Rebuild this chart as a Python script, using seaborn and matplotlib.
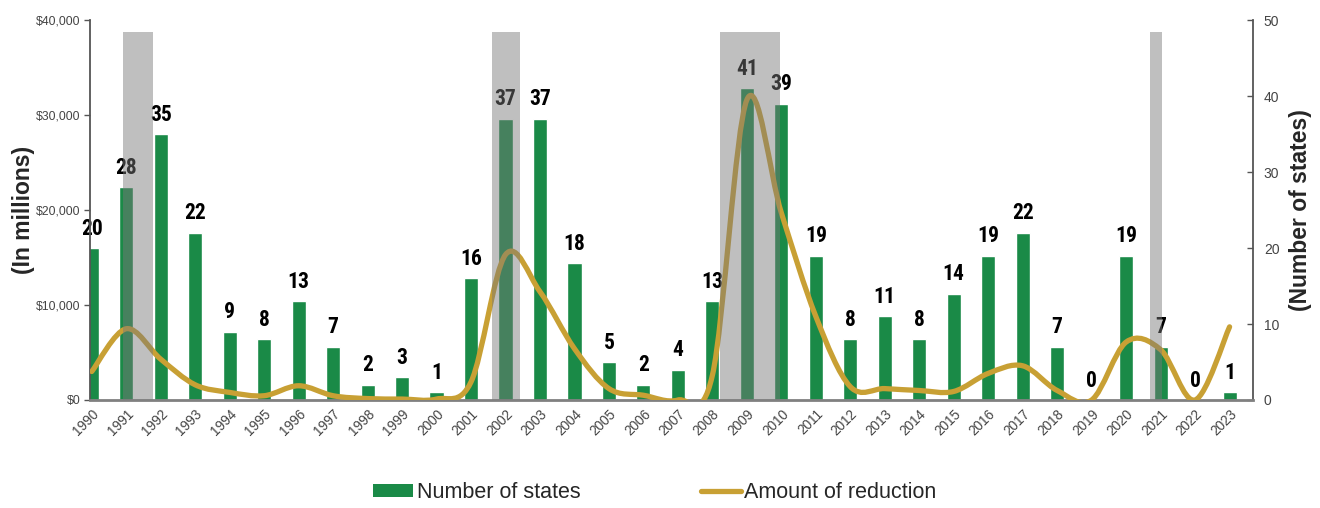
import numpy as np
import pandas as pd
import matplotlib
matplotlib.use("Agg")
import matplotlib.pyplot as plt
import matplotlib.transforms as mtransforms
import seaborn as sns
from matplotlib.path import Path
from matplotlib.patches import PathPatch, Patch
from matplotlib.lines import Line2D
from matplotlib.ticker import FuncFormatter, MultipleLocator

# ---- data -------------------------------------------------------------
years = list(range(1990, 2024))
states = [20, 28, 35, 22, 9, 8, 13, 7, 2, 3, 1, 16, 37, 37, 18, 5, 2, 4,
          13, 41, 39, 19, 8, 11, 8, 14, 19, 22, 7, 0, 19, 7, 0, 1]
# amount of reduction, $ millions
reduction = [3000, 7500, 4300, 1600, 800, 450, 1500, 450, 150, 100, 100,
             1900, 15300, 11400, 5400, 1200, 500, 0, 2600, 31600, 19700,
             8800, 1400, 1200, 1000, 900, 2800, 3600, 1000, 0, 6100, 5300,
             0, 7700]
# recession periods (fractional year positions on the year axis)
recessions = [(1990.91, 1991.78), (2001.60, 2002.42),
              (2008.21, 2009.95), (2020.70, 2021.05)]

GREEN = "#1a8a47"
GOLD = "#c8a034"
BAND = "#787878"
TICK = "#444444"
SPINE = "#555555"

sns.set_style("white")
plt.rcParams["font.family"] = ["Liberation Sans", "DejaVu Sans"]

df = pd.DataFrame({"year": [str(y) for y in years], "states": states})

fig = plt.figure(figsize=(13.2, 5.08), dpi=100)
ax_l = fig.add_axes([0.0682, 0.2126, 0.949 - 0.0682, 0.9606 - 0.2126])
ax_r = ax_l.twinx()

# bars: number of states (right axis)
sns.barplot(data=df, x="year", y="states", ax=ax_r, color=GREEN,
            saturation=1, width=0.41)
ax_r.bar_label(ax_r.containers[0], padding=6, fontsize=15.5, fontweight="bold",
               family=["Roboto Condensed", "Liberation Sans", "DejaVu Sans"],
               color="black")
ax_r.set_ylim(0, 50)
ax_r.yaxis.set_major_locator(MultipleLocator(10))

# smoothed line: amount of reduction (left axis)
def smooth_path(xs, ys):
    pts = np.column_stack([xs, ys]).astype(float)
    ext = np.vstack([pts[0], pts, pts[-1]])
    verts = [pts[0]]
    codes = [Path.MOVETO]
    for i in range(len(pts) - 1):
        p0, p1, p2, p3 = ext[i], ext[i + 1], ext[i + 2], ext[i + 3]
        verts += [p1 + (p2 - p0) / 6, p2 - (p3 - p1) / 6, p2]
        codes += [Path.CURVE4] * 3
    return Path(verts, codes)

xpos = np.arange(len(years))
ax_l.add_patch(PathPatch(smooth_path(xpos, reduction), fill=False,
                         edgecolor=GOLD, lw=3.8, capstyle="round",
                         joinstyle="round", zorder=3))
ax_l.set_ylim(0, 40000)
ax_l.yaxis.set_major_locator(MultipleLocator(10000))
ax_l.yaxis.set_major_formatter(FuncFormatter(lambda v, p: f"${v:,.0f}"))

# recession shading on top
for a, b in recessions:
    ax_l.fill_between([a - years[0], b - years[0]], 0, 38700, color=BAND,
                      alpha=0.47, lw=0, zorder=5)

ax_l.set_zorder(ax_r.get_zorder() + 1)
ax_l.patch.set_visible(False)

ax_l.set_xlim(-0.05, 33.67)
ax_l.set_xticks(xpos)
ax_l.set_xticklabels([str(y) for y in years], rotation=45, ha="right",
                     rotation_mode="anchor", fontsize=9.8, color=TICK)
shift = mtransforms.ScaledTranslation(6 / 100, 0, fig.dpi_scale_trans)
for lbl in ax_l.get_xticklabels():
    lbl.set_transform(lbl.get_transform() + shift)
ax_l.tick_params(axis="x", length=0, pad=5)
ax_l.tick_params(axis="y", direction="out", length=4, width=1, colors=SPINE,
                 labelsize=8.8, labelcolor=TICK, pad=3)
ax_r.tick_params(axis="y", direction="in", length=4, width=1, colors=SPINE,
                 labelsize=10, labelcolor=TICK, pad=8)

for s in ("top", "right"):
    ax_l.spines[s].set_visible(False)
ax_l.spines["left"].set_color(SPINE)
ax_l.spines["left"].set_linewidth(1.3)
ax_l.spines["bottom"].set_color("#808080")
ax_l.spines["bottom"].set_linewidth(2)
for s in ("top", "left", "bottom"):
    ax_r.spines[s].set_visible(False)
ax_r.spines["right"].set_visible(True)
ax_r.spines["right"].set_color(SPINE)
ax_r.spines["right"].set_linewidth(1.3)

ax_r.set_xlabel("")
ax_l.set_xlabel("")
ax_l.set_ylabel("(In millions)", fontsize=16.5, fontweight="bold")
ax_l.yaxis.set_label_coords(-0.047, 0.5)
ax_r.set_ylabel("(Number of states)", fontsize=16.5, fontweight="bold",
                rotation=90)
ax_r.yaxis.set_label_coords(1.031, 0.5)

handles = [Patch(facecolor=GREEN, edgecolor="none"),
           Line2D([], [], color=GOLD, lw=3.8, solid_capstyle="round")]
fig.legend(handles, ["Number of states", "Amount of reduction"],
           loc="center", bbox_to_anchor=(0.496, 0.03), ncol=2, frameon=False,
           fontsize=15.5, handlelength=1.85, handleheight=0.56,
           handletextpad=0.17, columnspacing=5.6)

fig.savefig("out.png", dpi=100)
